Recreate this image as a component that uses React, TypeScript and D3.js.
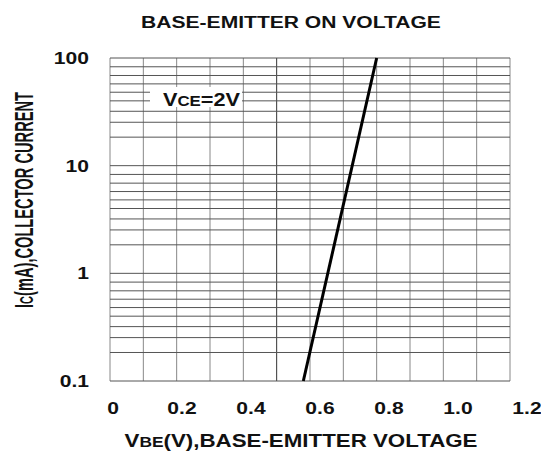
import React from 'react';
import * as d3 from 'd3';

// chart values
const xTicks = [0, 0.2, 0.4, 0.6, 0.8, 1.0, 1.2];
const xTickLabels = ['0', '0.2', '0.4', '0.6', '0.8', '1.0', '1.2'];
const yTicks = [0.1, 1, 10, 100];
const yTickLabels = ['0.1', '1', '10', '100'];
const decades = [0.1, 1, 10];
// the printed grid is not a true log grid; minor lines per decade as drawn
const minorGrid = [1.84, 2.53, 3.2, 4.0, 4.81, 5.75, 6.88, 8.29];
const curveVbe = [0.58, 0.8];
const curveIc = [0.1, 100];

const W = 541;
const H = 452;
const plot = { left: 110, right: 510, top: 58, bottom: 381 };
const font = 'Liberation Sans, Arial, sans-serif';
const stretch = 1.24; // the scanned chart is a bit wide

const App = () => {
  const x = d3.scaleLinear().domain([0, 1.2]).range([plot.left, plot.right]);
  // tick labels in the original sit a bit off the grid lines
  const xLabel = d3.scaleLinear().domain([0, 1.2]).range([113, 527]);
  const y = d3.scaleLog().domain([0.1, 100]).range([plot.bottom, plot.top]);

  const vLines = d3.range(0, 13).map(i => i / 10);
  const hLines: number[] = [];
  decades.forEach(d => {
    hLines.push(d);
    minorGrid.forEach(m => hLines.push(d * m));
  });
  hLines.push(100);

  const line = d3.line<number>()
    .x((d, i) => x(curveVbe[i]))
    .y(d => y(d));

  return (
    <svg width={W} height={H} style={{ position: 'absolute', left: 0, top: 0 }}>
      <rect width={W} height={H} fill="#fff" />
      <text transform={`translate(291,28) scale(${stretch},1)`} textAnchor="middle" fontFamily={font}
        fontWeight="bold" fontSize={17} fill="#111">
        BASE-EMITTER ON VOLTAGE
      </text>

      {vLines.map((v, i) => (
        <line key={'v' + i} x1={x(v)} x2={x(v)} y1={plot.top} y2={plot.bottom}
          stroke={Math.abs(v - 0.5) < 1e-6 ? '#333' : '#888'} strokeWidth={1} />
      ))}
      {hLines.map((v, i) => (
        <line key={'h' + i} x1={plot.left} x2={plot.right} y1={y(v)} y2={y(v)}
          stroke="#555" strokeWidth={1} />
      ))}

      <rect x={150} y={87} width={92} height={20} fill="#fff" />
      <text x={163} y={106} textLength={77} lengthAdjust="spacingAndGlyphs" fontFamily={font}
        fontWeight="bold" fontSize={18} fill="#111">
        V<tspan fontSize={14}>CE</tspan>=2V
      </text>

      <path d={line(curveIc) || ''} fill="none" stroke="#000" strokeWidth={3} />

      {xTicks.map((t, i) => (
        <text key={'xt' + i} transform={`translate(${xLabel(t)},414) scale(${stretch},1)`}
          textAnchor="middle" fontFamily={font} fontWeight="bold" fontSize={17} fill="#111">
          {xTickLabels[i]}
        </text>
      ))}
      {yTicks.map((t, i) => (
        <text key={'yt' + i} transform={`translate(89,${y(t)}) scale(${stretch},1)`} dy="0.36em"
          textAnchor="end" fontFamily={font} fontWeight="bold" fontSize={17} fill="#111">
          {yTickLabels[i]}
        </text>
      ))}

      <text transform={`translate(301,447) scale(${stretch},1)`} textAnchor="middle" fontFamily={font}
        fontWeight="bold" fontSize={18} fill="#111">
        V<tspan fontSize={14}>BE</tspan>(V),BASE-EMITTER VOLTAGE
      </text>
      <text transform={`translate(32.5,200) scale(1.25,1) rotate(-90)`} textAnchor="middle"
        textLength={216} lengthAdjust="spacingAndGlyphs" fontFamily={font}
        fontWeight="bold" fontSize={20} fill="#111">
        I<tspan fontSize={15}>C</tspan>(mA),COLLECTOR CURRENT
      </text>
    </svg>
  );
};

export default App;
